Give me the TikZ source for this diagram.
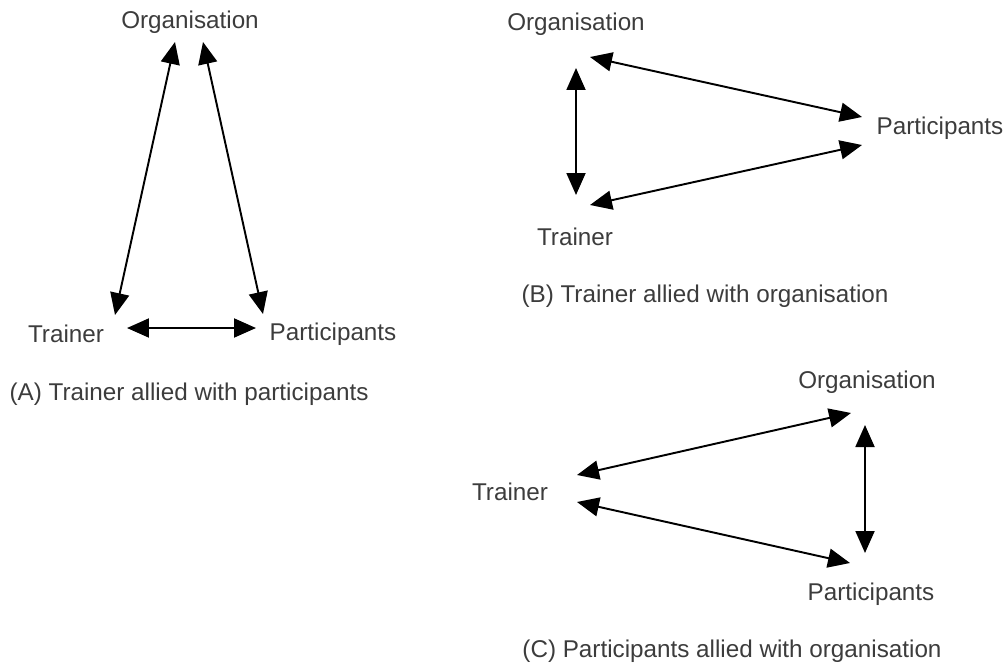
\documentclass[tikz,border=0pt]{standalone}
\usepackage{fontspec}
\setmainfont{Liberation Sans}
\usepackage{tikz}
\usetikzlibrary{arrows.meta}
\definecolor{txt}{RGB}{60,60,60}
\tikzset{
	lab/.style={text=txt,inner sep=0pt,font=\fontsize{13.8}{16}\selectfont},
	rel/.style={black,line width=1.1pt,{Triangle[length=0.44cm,width=0.38cm]}-{Triangle[length=0.44cm,width=0.38cm]}}
}
\begin{document}
\begin{tikzpicture}[x=0.02cm,y=-0.02cm]
			\useasboundingbox (0,0) rectangle (1006,666);
			
			% (A)
			\node[lab] (O1) at (190,22) {Organisation};
			\node[lab] (T1) at (66,334) {Trainer};
			\node[lab] (P1) at (333,334) {Participants};
			\node[lab] (L1) at (189,394) {(A) Trainer allied with participants};
			\coordinate (o1a) at (175,42);
			\coordinate (o1b) at (203,42);
			\coordinate (t1a) at (115,315);
			\coordinate (t1b) at (127,328);
			\coordinate (p1a) at (263,314);
			\coordinate (p1b) at (256,328);
			
			\draw[rel] (o1a) -- (t1a);
			\draw[rel] (o1b) -- (p1a);
			\draw[rel] (t1b) -- (p1b);
			
			% (B)
			\node[lab] (O2) at (576,24) {Organisation};
			\node[lab] (P2) at (940,128) {Participants};
			\node[lab] (T2) at (575,237) {Trainer};
			\node[lab] (L2) at (705,296) {(B) Trainer allied with organisation};
			\coordinate (o2a) at (590,57);
			\coordinate (o2b) at (576,68);
			\coordinate (t2a) at (576,195);
			\coordinate (t2b) at (590,205);
			\coordinate (p2a) at (862,117);
			\coordinate (p2b) at (862,145);
			
			\draw[rel] (o2a) -- (p2a);
			\draw[rel] (o2b) -- (t2a);
			\draw[rel] (t2b) -- (p2b);
			
			% (C)
			\node[lab] (O3) at (867,382) {Organisation};
			\node[lab] (T3) at (510,492) {Trainer};
			\node[lab] (P3) at (871,594) {Participants};
			\node[lab] (L3) at (732,651) {(C) Participants allied with organisation};
			\coordinate (o3a) at (851,413);
			\coordinate (o3b) at (865,425);
			\coordinate (t3a) at (577,475);
			\coordinate (t3b) at (577,502);
			\coordinate (p3a) at (850,563);
			\coordinate (p3b) at (865,553);
			
			\draw[rel] (o3a) -- (t3a);
			\draw[rel] (o3b) -- (p3b);
			\draw[rel] (t3b) -- (p3a);
			
\end{tikzpicture}
\end{document}
